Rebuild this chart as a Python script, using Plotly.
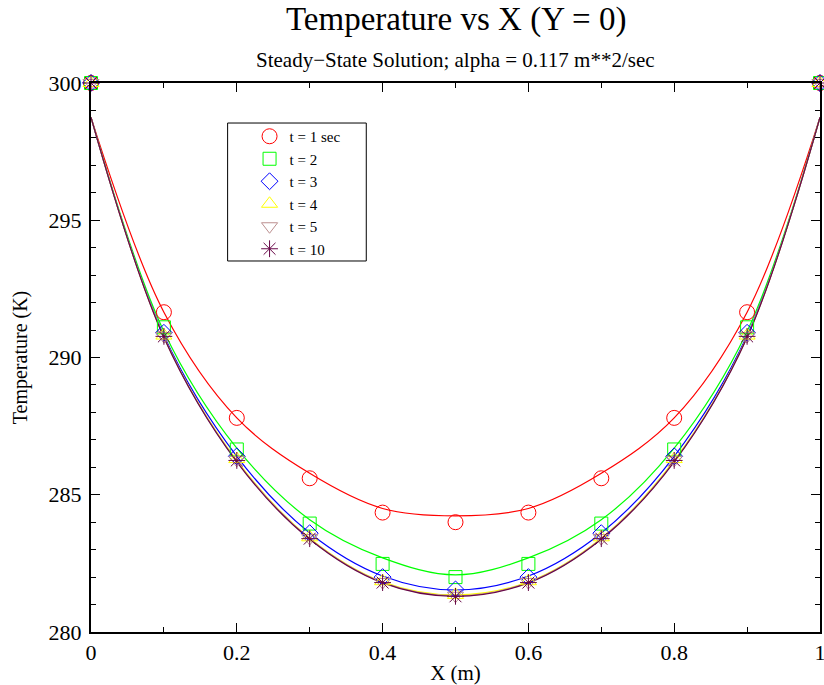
import plotly.graph_objects as go

# sampled points (markers)
x_pts = [0.0, 0.1, 0.2, 0.3, 0.4, 0.5, 0.6, 0.7, 0.8, 0.9, 1.0]

t1 = [300.0, 291.65, 287.8, 285.6, 284.35, 284.0, 284.35, 285.6, 287.8, 291.65, 300.0]
t2 = [300.0, 291.1, 286.65, 283.95, 282.48, 282.0, 282.48, 283.95, 286.65, 291.1, 300.0]
t3 = [300.0, 290.9, 286.4, 283.6, 282.0, 281.55, 282.0, 283.6, 286.4, 290.9, 300.0]
t4 = [300.0, 290.8, 286.3, 283.45, 281.85, 281.35, 281.85, 283.45, 286.3, 290.8, 300.0]
t5 = [300.0, 290.78, 286.27, 283.42, 281.82, 281.32, 281.82, 283.42, 286.27, 290.78, 300.0]
t10 = [300.0, 290.77, 286.25, 283.4, 281.8, 281.3, 281.8, 283.4, 286.25, 290.77, 300.0]

# smooth solution curves
c1 = [298.75, 291.65, 287.8, 285.78, 284.5, 284.23, 284.5, 285.78, 287.8, 291.65, 298.75]
c2 = [298.75, 290.95, 286.7, 284.09, 282.7, 282.08, 282.7, 284.09, 286.7, 290.95, 298.75]
c3 = [298.75, 290.8, 286.4, 283.61, 282.04, 281.53, 282.04, 283.61, 286.4, 290.8, 298.75]
c4 = [298.75, 290.75, 286.25, 283.42, 281.83, 281.35, 281.83, 283.42, 286.25, 290.75, 298.75]
c5 = [298.75, 290.74, 286.22, 283.4, 281.81, 281.32, 281.81, 283.4, 286.22, 290.74, 298.75]
c10 = [298.75, 290.73, 286.2, 283.38, 281.79, 281.3, 281.79, 283.38, 286.2, 290.73, 298.75]

names = ["t = 1 sec", "t = 2", "t = 3", "t = 4", "t = 5", "t = 10"]
series = [t1, t2, t3, t4, t5, t10]
curves = [c1, c2, c3, c4, c5, c10]
colors = ["#ff0000", "#00ff00", "#0000ff", "#ffff00", "#bc8f8f", "#670748"]
symbols = ["circle-open", "square-open", "diamond-open", "triangle-up-open",
           "triangle-down-open", "asterisk-open"]
sizes = [15, 13, 13, 14, 14, 14]

FONT = "Liberation Serif, Times New Roman, serif"

fig = go.Figure()

for cv, c in zip(curves, colors):
    fig.add_trace(go.Scatter(x=x_pts, y=cv, mode="lines",
                             line=dict(color=c, width=1.2, shape="spline", smoothing=1.0),
                             showlegend=False, hoverinfo="skip"))

for ys, n, c, s, sz in zip(series, names, colors, symbols, sizes):
    fig.add_trace(go.Scatter(x=x_pts, y=ys, mode="markers", name=n,
                             marker=dict(symbol=s, size=sz, color=c,
                                         line=dict(color=c, width=1)),
                             cliponaxis=False))

axis_common = dict(showline=True, linecolor="black", linewidth=2, mirror="allticks",
                   ticks="inside", tickcolor="black", showgrid=False, zeroline=False,
                   ticklabeloverflow="allow",
                   tickfont=dict(family=FONT, size=22, color="black"))

fig.update_xaxes(range=[0, 1], tickvals=[0, 0.2, 0.4, 0.6, 0.8, 1],
                 ticktext=["0", "0.2", "0.4", "0.6", "0.8", "1"], ticklen=9, tickwidth=1,
                 minor=dict(dtick=0.1, ticks="inside", ticklen=5, tickcolor="black"),
                 automargin=False,
                 title=dict(text="X (m)", font=dict(family=FONT, size=21, color="black"),
                            standoff=6),
                 **axis_common)
fig.update_yaxes(range=[280, 300], tickvals=[280, 285, 290, 295, 300], ticklen=9, tickwidth=1,
                 minor=dict(dtick=1, ticks="inside", ticklen=5, tickcolor="black"),
                 ticklabelstandoff=3,
                 title=dict(text="Temperature (K)", font=dict(family=FONT, size=20, color="black"),
                            standoff=16),
                 **axis_common)

fig.update_layout(
    width=824, height=685,
    margin=dict(l=91, r=2, t=83, b=53),
    plot_bgcolor="white", paper_bgcolor="white",
    font=dict(family=FONT, color="black"),
    showlegend=True,
    legend=dict(x=0.2175, y=0.9326, xanchor="left", yanchor="top",
                borderwidth=0, bgcolor="rgba(0,0,0,0)",
                font=dict(family=FONT, size=15, color="black"),
                tracegroupgap=0, itemwidth=30),
    shapes=[dict(type="rect", xref="paper", yref="paper",
                 x0=0.1874, x1=0.3776, y0=0.6758, y1=0.9271,
                 line=dict(color="black", width=1), fillcolor="rgba(0,0,0,0)",
                 layer="above")],
    annotations=[
        dict(text="Temperature vs X (Y = 0)", xref="paper", yref="paper",
             x=0.5, y=1, yshift=64, xanchor="center", yanchor="middle",
             showarrow=False, font=dict(family=FONT, size=33, color="black")),
        dict(text="Steady\u2212State Solution; alpha = 0.117 m**2/sec", xref="paper",
             yref="paper", x=0.5, y=1, yshift=23, xanchor="center", yanchor="middle",
             showarrow=False, font=dict(family=FONT, size=21, color="black")),
    ],
)

fig.write_html("out.html")
